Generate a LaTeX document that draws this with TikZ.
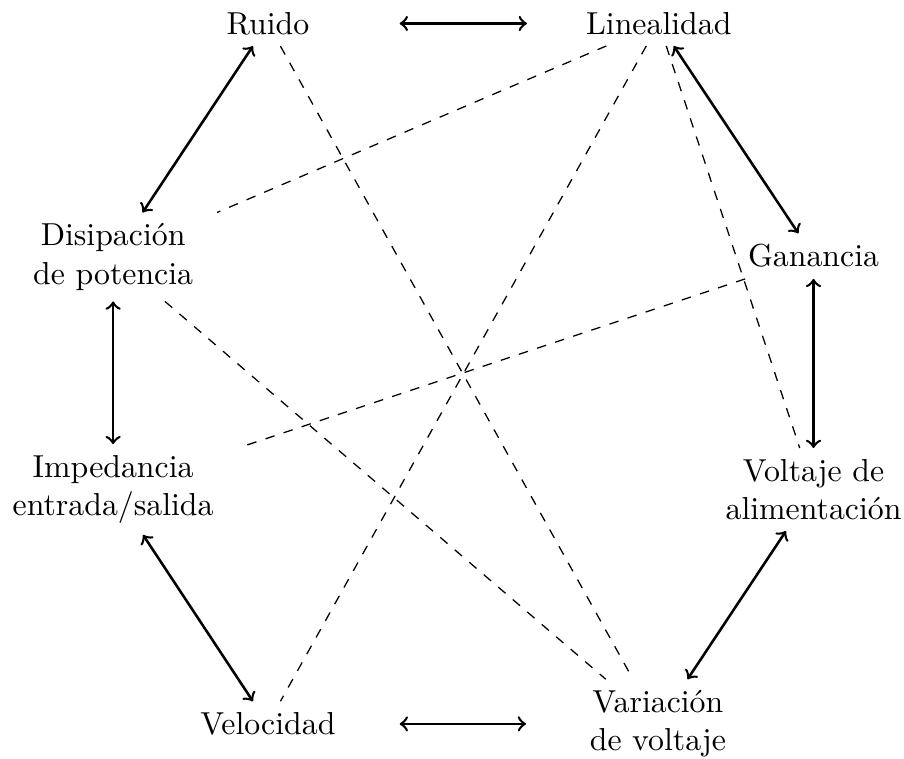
\documentclass[tikz,border=0pt]{standalone}

\begin{document}
\begin{tikzpicture}[>=to,
    bloque/.style={minimum width=2.9cm, align=center},
    rel/.style={<->, thick},
    cruce/.style={dashed}]
  \useasboundingbox (0,0) rectangle (9.99,8.38);
  % los ocho parametros, colocados en un octagono
  \node[bloque] (ruido) at (2.96,8.12) {Ruido};
  \node[bloque] (lineal) at (7.28,8.12) {Linealidad};
  \node[bloque] (disip) at (1.25,5.54) {Disipación\\de potencia};
  \node[bloque] (ganancia) at (8.99,5.55) {Ganancia};
  \node[bloque] (imped) at (1.25,2.97) {Impedancia\\entrada/salida};
  \node[bloque] (voltaje) at (8.99,2.97) {Voltaje de\\alimentación};
  \node[bloque] (veloc) at (2.96,0.38) {Velocidad};
  \node[bloque] (variac) at (7.27,0.38) {Variación\\de voltaje};
  % compromisos entre vecinos
  \draw[rel] (ruido) -- (lineal);
  \draw[rel] (lineal) -- (ganancia);
  \draw[rel] (ganancia) -- (voltaje);
  \draw[rel] (voltaje) -- (variac);
  \draw[rel] (variac) -- (veloc);
  \draw[rel] (veloc) -- (imped);
  \draw[rel] (imped) -- (disip);
  \draw[rel] (disip) -- (ruido);
  % compromisos cruzados
  \draw[cruce] (ruido) -- (variac);
  \draw[cruce] (lineal) -- (disip);
  \draw[cruce] (lineal) -- (veloc);
  \draw[cruce] (lineal) -- (voltaje);
  \draw[cruce] (ganancia) -- (imped);
  \draw[cruce] (disip) -- (variac);
\end{tikzpicture}
\end{document}
